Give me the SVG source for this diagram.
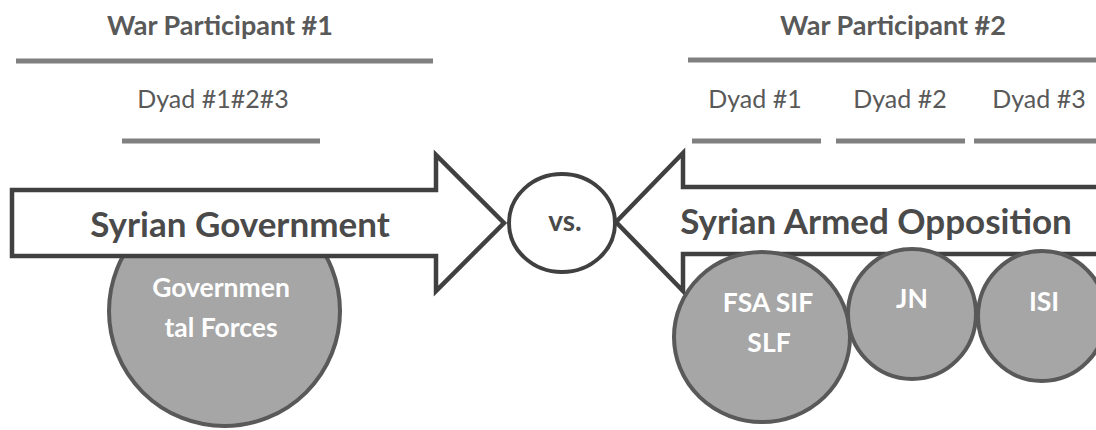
<svg xmlns="http://www.w3.org/2000/svg" width="1096" height="430" viewBox="0 0 1096 430">
<style>
.title{font-family:Lato,"Open Sans",sans-serif;font-weight:bold;font-size:27px;fill:#595959;text-anchor:middle}
.dyad{font-family:Lato,"Open Sans",sans-serif;font-size:25px;fill:#595959;text-anchor:middle}
.rule{stroke:#808080;stroke-width:5;fill:none}
.arrow{fill:#ffffff;stroke:#404040;stroke-width:4.5;stroke-linejoin:miter}
.big{font-family:Lato,"Open Sans",sans-serif;font-weight:bold;font-size:35px;fill:#4a4a4a;text-anchor:middle}
.actor{fill:#a6a6a6;stroke:#595959;stroke-width:4}
.actortxt{font-family:Lato,"Open Sans",sans-serif;font-weight:bold;font-size:26.5px;fill:#ffffff;text-anchor:middle}
.vs{fill:#ffffff;stroke:#404040;stroke-width:4}
.vstxt{font-family:Lato,"Open Sans",sans-serif;font-weight:bold;font-size:28px;fill:#4a4a4a;text-anchor:middle}
</style>
<g id="header-1">
<text class="title" x="220" y="35">War Participant #1</text>
<line class="rule" x1="16" y1="61" x2="433" y2="61"/>
<text class="dyad" x="213" y="108">Dyad #1#2#3</text>
<line class="rule" x1="122" y1="141" x2="320" y2="141"/>
</g>
<g id="header-2">
<text class="title" x="893" y="35">War Participant #2</text>
<line class="rule" x1="688" y1="60" x2="1100" y2="60"/>
<text class="dyad" x="755" y="108">Dyad #1</text>
<text class="dyad" x="900" y="108">Dyad #2</text>
<text class="dyad" x="1039" y="108">Dyad #3</text>
<line class="rule" x1="692" y1="141" x2="821" y2="141"/>
<line class="rule" x1="836" y1="141" x2="965" y2="141"/>
<line class="rule" x1="974" y1="141" x2="1100" y2="141"/>
</g>
<g id="governmental-forces">
<ellipse class="actor" cx="224.5" cy="311" rx="115.5" ry="115"/>
<text class="actortxt" x="221" y="297">Governmen</text>
<text class="actortxt" x="221" y="337">tal Forces</text>
</g>
<g id="syrian-government">
<polygon class="arrow" points="12,190 436,190 436,155 504,223 436,291 436,256 12,256"/>
<text class="big" x="240" y="237">Syrian Government</text>
</g>
<g id="vs">
<ellipse class="vs" cx="562" cy="223" rx="53" ry="49"/>
<text class="vstxt" x="565" y="231">vs.</text>
</g>
<g id="syrian-armed-opposition">
<polygon class="arrow" points="616,222 683,153 683,187 1110,187 1110,254 683,254 683,291"/>
<text class="big" x="876" y="234">Syrian Armed Opposition</text>
</g>
<g id="fsa-sif-slf">
<ellipse class="actor" cx="762" cy="337" rx="88" ry="85"/>
<text class="actortxt" x="768" y="312">FSA SIF</text>
<text class="actortxt" x="769" y="352">SLF</text>
</g>
<g id="jn">
<ellipse class="actor" cx="912" cy="314" rx="64" ry="65"/>
<text class="actortxt" x="912" y="308">JN</text>
</g>
<g id="isi">
<ellipse class="actor" cx="1042" cy="316" rx="64" ry="65"/>
<text class="actortxt" x="1044" y="311">ISI</text>
</g>
<g id="connectors"></g>
</svg>
